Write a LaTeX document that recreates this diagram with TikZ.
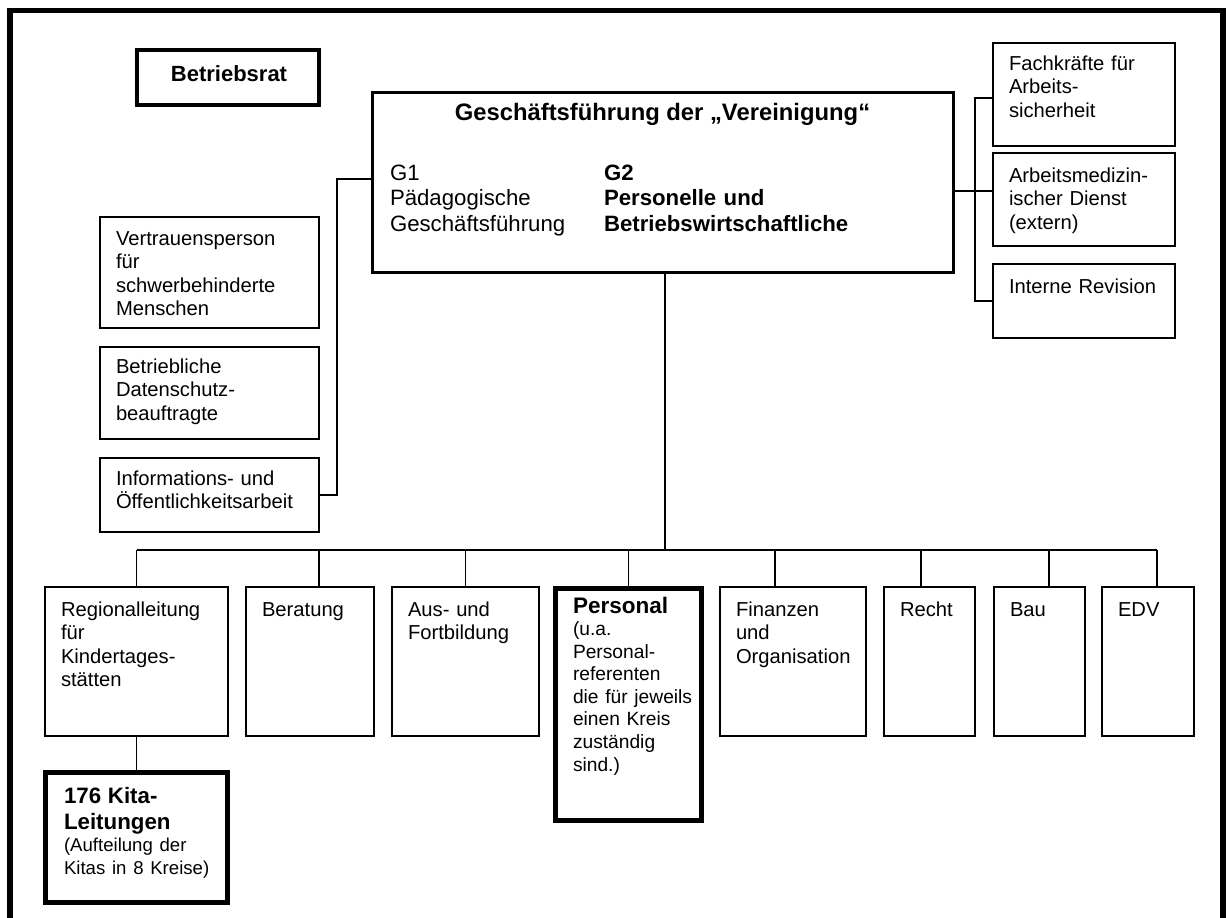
\documentclass[tikz,border=0pt]{standalone}
\usepackage{fontspec}
\setmainfont{Liberation Sans}
\begin{document}
\begin{tikzpicture}[x=1pt,y=-1pt,
  box/.style={draw=black,line width=1.5pt,inner sep=0pt,outer sep=0pt,rectangle},
  thickbox/.style={box,line width=5pt},
  conn/.style={draw=black,line width=1.5pt},
  txt/.style={anchor=base west,inner sep=0pt,outer sep=0pt,text width=320pt,align=left,
    font=\fontsize{20.2}{23.5}\selectfont},
  gtxt/.style={anchor=base west,inner sep=0pt,outer sep=0pt,text width=320pt,align=left,
    font=\fontsize{22.2}{25.5}\selectfont}
]
\useasboundingbox (0,0) rectangle (1226,918);
\draw[line width=5.5pt] (10,10.5) rectangle (1223,960);

% top level
\node[box,line width=4pt,minimum width=182pt,minimum height=55pt] (brat) at (228,77.5) {};
\node[anchor=base,inner sep=0pt,font=\fontsize{22}{25}\selectfont\bfseries] (tbrat) at (229,81) {Betriebsrat};

\node[box,line width=3pt,minimum width=581pt,minimum height=180pt] (gf) at (662.5,182) {};
\node[anchor=base,inner sep=0pt,font=\fontsize{23.8}{27}\selectfont\bfseries] (tgf) at (662.5,120.5) {Geschäftsführung der „Vereinigung“};
\node[gtxt] (tg1) at (390,180) {G1\\Pädagogische\\Geschäftsführung};
\node[gtxt,font=\fontsize{22.2}{25.5}\selectfont\bfseries] (tg2) at (604,180) {G2\\Personelle und\\Betriebswirtschaftliche};

% left boxes
\node[box,minimum width=219pt,minimum height=111pt] (vert) at (209.5,272.5) {};
\node[txt] (tvert) at (116,245) {Vertrauensperson\\für\\schwerbehinderte\\Menschen};
\node[box,minimum width=219pt,minimum height=92pt] (betr) at (209.5,393) {};
\node[txt] (tbetr) at (116,373) {Betriebliche\\Datenschutz-\\beauftragte};
\node[box,minimum width=219pt,minimum height=74pt] (info) at (209.5,495) {};
\node[txt] (tinfo) at (116,485) {Informations- und\\Öffentlichkeitsarbeit};

% right boxes
\node[box,minimum width=182pt,minimum height=103pt] (fach) at (1084,94.5) {};
\node[txt] (tfach) at (1009,70) {Fachkräfte für\\Arbeits-\\sicherheit};
\node[box,minimum width=182pt,minimum height=93pt] (arb) at (1084,199.5) {};
\node[txt] (tarb) at (1009,182) {Arbeitsmedizin-\\ischer Dienst\\(extern)};
\node[box,minimum width=182pt,minimum height=74pt] (intrev) at (1084,301) {};
\node[txt] (tintrev) at (1009,293) {Interne Revision};

% bottom row
\node[box,minimum width=183pt,minimum height=149pt] (reg) at (136.5,661.5) {};
\node[txt] (treg) at (61,616) {Regionalleitung\\für\\Kindertages-\\stätten};
\node[box,minimum width=128pt,minimum height=149pt] (berat) at (310,661.5) {};
\node[txt] (tberat) at (262,616) {Beratung};
\node[box,minimum width=147pt,minimum height=149pt] (aus) at (465.5,661.5) {};
\node[txt] (taus) at (408,616) {Aus- und\\Fortbildung};
\node[thickbox,minimum width=146pt,minimum height=232pt] (pers) at (628.5,704.5) {};
\node[txt] (tpers) at (573,613) {{\fontsize{22.5}{22.5}\selectfont\bfseries Personal}\par
  \fontsize{19.2}{22.5}\selectfont (u.a.\\Personal-\\referenten\\die für jeweils\\einen Kreis\\zuständig\\sind.)};
\node[box,minimum width=146pt,minimum height=149pt] (fin) at (793,661.5) {};
\node[txt] (tfin) at (736,616) {Finanzen\\und\\Organisation};
\node[box,minimum width=91pt,minimum height=149pt] (recht) at (929.5,661.5) {};
\node[txt] (trecht) at (900,616) {Recht};
\node[box,minimum width=91pt,minimum height=149pt] (bau) at (1039.5,661.5) {};
\node[txt] (tbau) at (1010,616) {Bau};
\node[box,minimum width=92pt,minimum height=149pt] (edv) at (1148,661.5) {};
\node[txt] (tedv) at (1118,616) {EDV};

\node[thickbox,minimum width=182pt,minimum height=130pt] (kita) at (136.5,837.5) {};
\node[txt] (tkita) at (64,803) {{\fontsize{22.3}{26}\selectfont\bfseries 176 Kita-\\Leitungen\par}
  \fontsize{18.6}{22}\selectfont (Aufteilung der\\Kitas in 8 Kreise)};

% connectors left
\coordinate (lc) at (337,179);
\draw[conn] (gf.west |- lc) -- (lc) -- (lc |- info.east) -- (info.east);
% connectors right
\coordinate (rt) at (975,98);
\coordinate (rm) at (975,191);
\draw[conn] (rt -| fach.west) -- (rt) -- (rt |- intrev.west) -- (intrev.west);
\draw[conn] (gf.east |- rm) -- (rm -| arb.west);
% main trunk and bus
\coordinate (trunk) at (665,550);
\draw[conn] (trunk |- gf.south) -- (trunk);
\coordinate (d1) at (136.5,550);
\coordinate (d2) at (319,550);
\coordinate (d3) at (465.5,550);
\coordinate (d4) at (628.5,550);
\coordinate (d5) at (775,550);
\coordinate (d6) at (921,550);
\coordinate (d7) at (1049,550);
\coordinate (d8) at (1157,550);
\draw[conn] (d1) -- (d8);
\draw[conn] (d1) -- (reg.north);
\draw[conn] (d2) -- (d2 |- berat.north);
\draw[conn] (d3) -- (aus.north);
\draw[conn] (d4) -- (pers.north);
\draw[conn] (d5) -- (d5 |- fin.north);
\draw[conn] (d6) -- (d6 |- recht.north);
\draw[conn] (d7) -- (d7 |- bau.north);
\draw[conn] (d8) -- (d8 |- edv.north);
\draw[conn] (reg.south) -- (kita.north);
\end{tikzpicture}
\end{document}
